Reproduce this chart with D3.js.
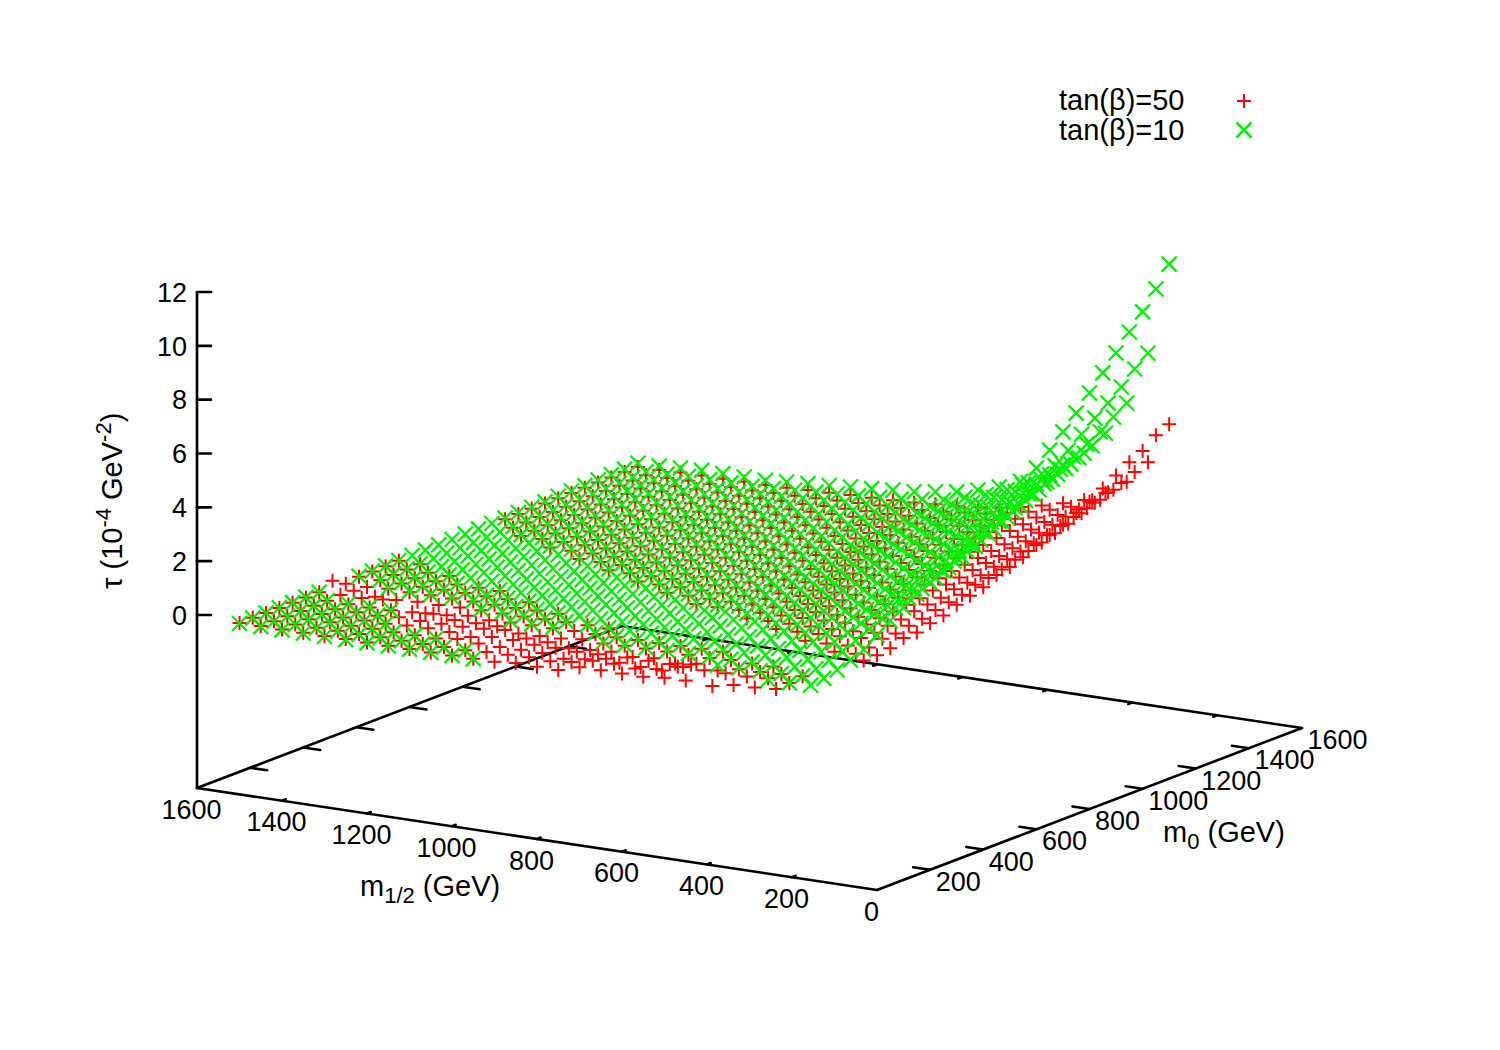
<!DOCTYPE html>
<html><head><meta charset="utf-8">
<script src="https://d3js.org/d3.v7.min.js"></script>
<style>html,body{margin:0;padding:0;background:#fff}svg{display:block}text{font-family:"Liberation Sans",Arial,sans-serif;font-size:27px;fill:#000}</style>
</head><body><div id="chart"></div>
<script>
const _ = null;
const m12Values = [1500,1450,1400,1350,1300,1250,1200,1150,1100,1050,1000,950,900,850,800,750,700,650,600,550,500,450,400,350,300,250];
const m0Values = [0,50,100,150,200,250,300,350,400,450,500,550,600,650,700,750,800,850,900,950,1000,1050,1100,1150,1200,1250,1300,1350,1400,1450,1500];
const tauTan50 = [
[-.05,-.05,-.06,-.06,-.05,-.05,-.04,.2,-.1,-.03,-.02,-.01,0,_,_,_,_,_,_,_,.04,.05,.05,.06,.07,.07,.08,.09,.09,.1,.1],
[-.05,-.06,-.06,-.05,-.05,-.05,-.02,-.05,-.1,-.04,-.03,-.02,-.01,_,_,_,_,_,_,.03,.04,.05,.05,.06,.07,.07,.08,.09,.09,.1,.11],
[-.06,-.06,-.05,-.05,-.06,-.06,-.02,-.16,-.05,-.04,-.03,-.02,_,_,_,_,_,_,.03,.04,.05,.05,.06,.07,.07,.08,.09,.1,.11,.12,.13],
[-.06,-.06,-.05,-.06,-.05,-.06,.05,-.16,-.06,-.04,-.03,-.02,_,_,_,_,_,_,.04,.05,.06,.06,.07,.08,.08,.09,.1,.11,.12,.13,.14],
[-.06,-.06,-.06,-.05,-.06,-.05,_,-.11,-.05,-.04,-.03,_,_,_,_,_,_,.03,.04,.05,.06,.06,.07,.08,.08,.09,.1,.11,.12,.13,.14],
[-.06,-.06,-.05,-.05,0,0,-.23,-.11,-.06,-.04,-.03,_,_,_,_,_,_,.03,.04,.05,.06,.06,.07,.07,.08,.09,.1,.11,.12,.13,.14],
[-.07,-.06,-.06,0,-.02,.06,-.18,-.08,-.05,-.04,-.03,_,_,_,_,_,.03,.04,.04,.05,.06,.06,.07,.07,.08,.09,.1,.11,.12,.13,.14],
[-.07,-.07,-.06,.02,0,-.05,-.08,-.07,-.05,-.03,_,_,_,_,_,_,.03,.04,.05,.05,.07,.07,.08,.09,.1,.11,.12,.13,.14,.15,.16],
[-.07,-.07,-.06,0,0,-.06,-.13,-.07,-.05,-.03,_,_,_,_,_,.03,.04,.05,.05,.06,.07,.08,.09,.1,.11,.12,.13,.14,.16,.17,.19],
[-.08,-.07,.04,-.07,.05,-.05,-.1,-.06,-.03,_,_,_,_,_,_,.04,.05,.06,.06,.07,.08,.09,.1,.11,.12,.13,.15,.16,.17,.19,.21],
[-.08,-.07,-.01,.05,.12,-.2,-.08,-.05,-.03,_,_,_,_,_,.04,.05,.06,.07,.08,.09,.1,.11,.12,.14,.15,.16,.18,.19,.21,.23,.24],
[-.08,-.02,-.02,.05,-.08,-.17,-.07,-.04,_,_,_,_,_,_,.05,.06,.07,.08,.09,.1,.12,.13,.14,.15,.16,.18,.2,.22,.23,.25,.26],
[-.07,0,0,0,-.1,-.15,-.06,-.03,_,_,_,_,_,.05,.06,.07,.08,.09,.1,.11,.13,.14,.15,.17,.18,.2,.22,.24,.25,.28,.29],
[0,.03,0,0,-.2,-.06,-.05,-.03,_,_,_,_,_,.05,.06,.07,.08,.1,.11,.12,.14,.15,.16,.18,.2,.22,.24,.26,.27,.3,.32],
[-.02,0,-.1,-.03,-.15,-.1,-.05,_,_,_,_,_,.05,.06,.08,.09,.1,.12,.13,.14,.16,.18,.19,.21,.23,.25,.28,.3,.32,.35,.37],
[-.02,.09,0,0,-.1,-.06,-.04,_,_,_,_,_,.06,.07,.09,.1,.11,.13,.14,.16,.18,.2,.22,.24,.26,.29,.31,.34,.36,.4,.42],
[.2,.25,.14,-.2,-.17,-.05,-.03,_,_,_,_,_,.07,.08,.1,.12,.13,.16,.17,.19,.22,.24,.26,.29,.31,.34,.38,.41,.43,.48,.5],
[.2,.26,.3,-.24,-.1,-.04,-.02,_,_,_,_,.06,.08,.1,.12,.14,.16,.19,.21,.23,.26,.29,.31,.34,.37,.41,.45,.49,.52,.57,.6],
[.2,.2,.3,-.25,-.18,-.04,-.01,_,_,_,_,.08,.1,.12,.15,.18,.2,.24,.26,.29,.33,.36,.39,.43,.47,.51,.56,.61,.65,.71,.75],
[.2,.3,.3,0,-.07,-.04,0,_,_,_,.09,.1,.13,.15,.19,.22,.24,.3,.32,.35,.4,.44,.48,.53,.57,.63,.69,.75,.8,.88,.92],
[.28,.5,.4,0,-.2,0,_,_,_,_,.11,.12,.15,.18,.23,.26,.3,.36,.38,.43,.49,.54,.58,.64,.7,.77,.84,.91,.97,1.07,1.12],
[.3,_,-.28,0,-.04,-.01,_,_,_,.08,.14,.14,.19,.22,.28,.32,.36,.44,.47,.52,.6,.65,.71,.78,.85,.94,1.02,1.11,1.18,1.3,1.36],
[_,_,-.13,0,-.02,0,_,_,_,.1,.18,.18,.24,.28,.35,.41,.46,.56,.6,.67,.76,.83,.9,1,1.08,1.2,1.31,1.42,1.51,1.66,1.74],
[_,_,-.1,.05,.02,_,_,_,.1,.14,.23,.24,.31,.36,.47,.54,.6,.73,.78,.87,1,1.09,1.19,1.31,1.42,1.57,1.72,1.86,1.98,2.17,2.28],
[_,_,-.04,0,.06,_,_,_,.14,.19,.32,.33,.43,.5,.64,.74,.83,1.01,1.08,1.2,1.38,1.51,1.64,1.8,1.96,2.16,2.37,2.57,2.72,2.94,3.12],
[_,_,_,_,_,_,_,.2,.2,.28,.47,.49,.64,.74,.95,1.1,1.23,1.49,1.6,1.78,2.04,2.23,2.42,2.67,2.9,3.2,3.5,3.8,4.03,4.43,4.65]
];
const tauTan10 = [
[-.07,-.06,-.06,-.05,-.05,-.04,-.04,_,_,-.01,0,0,.01,.01,.02,.03,.04,.05,.06,.07,.08,.1,.11,.12,.14,.15,.16,.18,.19,.21,.24],
[-.07,-.06,-.06,-.05,-.05,-.04,_,_,_,-.01,0,.01,.01,.02,.03,.03,.04,.05,.06,.08,.09,.1,.11,.13,.14,.15,.17,.18,.2,.22,.25],
[-.07,-.06,-.06,-.05,-.05,-.04,_,_,-.02,-.01,0,.01,.02,.03,.04,.05,.06,.07,.08,.09,.11,.12,.14,.15,.17,.19,.2,.22,.24,.26,.3],
[-.08,-.07,-.06,-.05,-.05,-.04,_,_,-.02,0,.01,.02,.03,.04,.05,.06,.07,.08,.09,.1,.12,.13,.15,.17,.19,.2,.22,.24,.26,.29,.33],
[-.08,-.07,-.06,-.06,-.05,-.04,_,_,-.02,0,.01,.02,.03,.04,.05,.06,.07,.08,.09,.11,.12,.14,.15,.17,.19,.2,.22,.24,.26,.29,.33],
[-.08,-.07,-.06,-.06,_,_,_,_,-.02,0,.01,.02,.03,.04,.05,.06,.07,.08,.09,.1,.12,.13,.15,.16,.18,.2,.22,.24,.26,.28,.32],
[-.08,-.07,-.06,_,_,_,_,_,-.01,0,.01,.02,.03,.04,.05,.06,.07,.08,.09,.1,.12,.13,.15,.16,.18,.2,.22,.24,.26,.28,.32],
[-.08,-.07,-.06,_,_,_,_,-.02,0,.01,.02,.03,.04,.05,.06,.07,.08,.09,.1,.12,.14,.15,.17,.19,.21,.23,.25,.27,.3,.32,.37],
[-.08,-.07,-.06,_,_,_,_,-.01,0,.02,.03,.04,.05,.06,.07,.08,.09,.1,.12,.14,.16,.18,.2,.22,.24,.26,.29,.31,.34,.37,.43],
[-.08,-.07,_,_,_,_,-.03,-.01,.01,.02,.03,.04,.05,.06,.07,.09,.1,.12,.14,.16,.18,.2,.22,.24,.27,.29,.32,.35,.38,.42,.48],
[-.08,-.07,_,_,_,_,-.03,-.01,.01,.03,.04,.05,.06,.07,.09,.1,.12,.14,.16,.18,.2,.23,.25,.28,.31,.34,.37,.4,.43,.47,.54],
[-.08,_,_,_,_,_,-.03,-.01,.01,.03,.05,.06,.07,.09,.1,.12,.14,.16,.18,.2,.23,.26,.28,.31,.34,.37,.41,.44,.48,.52,.6],
[_,_,_,_,_,_,_,-.01,.02,.04,.05,.07,.08,.1,.12,.14,.16,.18,.2,.23,.26,.29,.32,.35,.38,.42,.45,.49,.54,.58,.66],
[_,_,_,_,_,_,-.02,0,.02,.05,.06,.08,.1,.12,.14,.16,.18,.2,.23,.26,.29,.32,.35,.39,.42,.46,.5,.54,.58,.63,.72],
[_,_,_,_,_,-.03,-.01,.01,.04,.06,.08,.1,.12,.14,.17,.19,.22,.24,.28,.31,.35,.39,.43,.47,.51,.56,.6,.65,.7,.75,.84],
[_,_,_,_,_,-.03,0,.02,.05,.07,.1,.12,.14,.17,.2,.22,.25,.28,.32,.36,.4,.44,.48,.53,.58,.63,.68,.73,.79,.84,.95],
[_,_,_,_,_,-.02,.03,.05,.09,.12,.16,.19,.21,.24,.27,.31,.34,.37,.42,.46,.51,.56,.61,.67,.73,.79,.85,.91,.98,1.05,1.14],
[_,_,_,_,_,0,.03,.06,.11,.15,.2,.24,.27,.3,.34,.38,.42,.46,.51,.57,.63,.69,.75,.82,.9,.97,1.03,1.11,1.18,1.27,1.37],
[_,_,_,_,_,0,.04,.08,.14,.2,.25,.3,.34,.38,.43,.48,.53,.58,.64,.71,.79,.86,.94,1.02,1.11,1.2,1.29,1.38,1.48,1.58,1.7],
[_,_,_,_,_,.02,.06,.11,.18,.25,.31,.37,.42,.47,.53,.59,.65,.71,.79,.88,.97,1.06,1.16,1.26,1.37,1.48,1.59,1.71,1.82,1.95,2.1],
[_,_,_,_,0,.03,.08,.14,.22,.31,.38,.45,.51,.57,.64,.72,.79,.86,.96,1.07,1.18,1.29,1.41,1.53,1.67,1.8,1.93,2.07,2.21,2.37,2.55],
[_,_,_,_,.01,.05,.11,.17,.27,.38,.46,.55,.62,.7,.79,.87,.96,1.05,1.17,1.3,1.43,1.57,1.71,1.86,2.03,2.19,2.35,2.52,2.69,2.88,3.1],
[_,_,_,_,.02,.07,.14,.22,.35,.48,.59,.7,.79,.89,1,1.11,1.22,1.34,1.49,1.66,1.83,2.01,2.19,2.38,2.59,2.8,3,3.22,3.43,3.68,3.96],
[_,_,_,0,.04,.1,.19,.29,.46,.63,.78,.93,1.05,1.18,1.32,1.47,1.62,1.77,1.96,2.18,2.4,2.64,2.88,3.13,3.4,3.68,3.95,4.24,4.51,4.87,5.2],
[_,_,_,0,.07,.15,.27,.41,.64,.88,1.08,1.28,1.45,1.62,1.83,2.03,2.23,2.43,2.7,3,3.31,3.64,3.97,4.31,4.69,5.1,5.51,5.88,6.29,6.77,7.17],
[_,_,_,.03,.1,.22,.4,.6,.95,1.3,1.6,1.9,2.15,2.4,2.7,3,3.3,3.6,4,4.45,4.9,5.38,5.87,6.38,6.94,7.5,8.05,8.64,9.2,9.86,10.6]
];
const m12Ticks = [0,200,400,600,800,1000,1200,1400,1600];
const m0Ticks = [200,400,600,800,1000,1200,1400,1600];
const tauTicks = [0,2,4,6,8,10,12];
const seriesNames = ["tan(β)=50","tan(β)=10"];

const W=1500,H=1050,RED="#ff0000",GREEN="#00ee00";
const svg=d3.select("#chart").append("svg").attr("width",W).attr("height",H);
// gnuplot-style orthographic view, expressed as linear scales
const AX=d3.scaleLinear([0,1600],[0,-680]), AY=d3.scaleLinear([0,1600],[0,-102]);
const BX=d3.scaleLinear([0,1600],[0,425]), BY=d3.scaleLinear([0,1600],[0,-162]);
const Z=d3.scaleLinear([0,12],[615,292]);
const ZBASE=-6.42;
const px=(a,b)=>877+AX(a)+BX(b);
const py=(a,b,z=ZBASE)=>890+AY(a)+BY(b)+Z(z)-Z(ZBASE);

const axes=svg.append("g").attr("stroke","#000").attr("stroke-width",2.6).attr("fill","none").attr("stroke-linecap","round");
const seg=(a1,b1,z1,a2,b2,z2)=>axes.append("line").attr("x1",px(a1,b1)).attr("y1",py(a1,b1,z1)).attr("x2",px(a2,b2)).attr("y2",py(a2,b2,z2));
seg(0,0,ZBASE,1600,0,ZBASE);seg(0,0,ZBASE,0,1600,ZBASE);seg(1600,0,ZBASE,1600,1600,ZBASE);seg(0,1600,ZBASE,1600,1600,ZBASE);
seg(1600,0,ZBASE,1600,0,12);
const TL_A=14, TL_B=40;
m12Ticks.slice(1,-1).forEach(a=>{seg(a,0,ZBASE,a,TL_A,ZBASE);seg(a,1600,ZBASE,a,1600-TL_A,ZBASE);});
m0Ticks.slice(0,-1).forEach(b=>{seg(0,b,ZBASE,TL_B,b,ZBASE);seg(1600,b,ZBASE,1600-TL_B,b,ZBASE);});
tauTicks.forEach(t=>axes.append("line").attr("x1",197).attr("x2",211).attr("y1",Z(t)).attr("y2",Z(t)));

const labels=svg.append("g");
labels.selectAll(".zl").data(tauTicks).join("text").attr("x",187).attr("y",d=>Z(d)).attr("dy","0.36em").attr("text-anchor","end").text(d=>d);
labels.selectAll(".al").data(m12Ticks).join("text").attr("x",d=>px(d,0)-5.5).attr("y",d=>py(d,0)+21).attr("dy","0.36em").attr("text-anchor","middle").text(d=>d);
labels.selectAll(".bl").data(m0Ticks).join("text").attr("x",d=>px(0,d)+5.5).attr("y",d=>py(0,d)+11.5).attr("dy","0.36em").attr("text-anchor","start").text(d=>d);

const T=29,S=22;
const t1=svg.append("text").attr("x",360).attr("y",896).style("font-size",T+"px");
t1.append("tspan").text("m");t1.append("tspan").attr("dy",7).style("font-size",S+"px").text("1/2");t1.append("tspan").attr("dy",-7).text(" (GeV)");
const t2=svg.append("text").attr("x",1163).attr("y",842).style("font-size",T+"px");
t2.append("tspan").text("m");t2.append("tspan").attr("dy",7).style("font-size",S+"px").text("0");t2.append("tspan").attr("dy",-7).text(" (GeV)");
const t3=svg.append("text").attr("transform","translate(122,589) rotate(-90)").style("font-size",T+"px");
t3.append("tspan").text("τ (10");t3.append("tspan").attr("dy",-11).style("font-size",S+"px").text("-4");t3.append("tspan").attr("dy",11).text(" GeV");t3.append("tspan").attr("dy",-11).style("font-size",S+"px").text("-2");t3.append("tspan").attr("dy",11).text(")");

const PLUS="M-7,0H7M0,-7V7", CROSS="M-7.5,-7.5L7.5,7.5M-7.5,7.5L7.5,-7.5";
function points(grid){const out=[];grid.forEach((row,i)=>row.forEach((z,j)=>{if(z!==null)out.push({a:m12Values[i],b:m0Values[j],z});}));return out;}
function draw(grid,path,color,sw){
  svg.append("g").selectAll("path").data(points(grid)).join("path").attr("d",path).attr("fill","none").attr("stroke",color).attr("stroke-width",sw)
    .attr("transform",d=>`translate(${px(d.a,d.b)},${py(d.a,d.b,d.z)})`);
}
draw(tauTan50,PLUS,RED,2);
draw(tauTan10,CROSS,GREEN,2.3);

svg.append("text").attr("x",1059).attr("y",110).style("font-size",T+"px").text(seriesNames[0]);
svg.append("text").attr("x",1059).attr("y",139.5).style("font-size",T+"px").text(seriesNames[1]);
svg.append("path").attr("d",PLUS).attr("fill","none").attr("stroke",RED).attr("stroke-width",2).attr("transform","translate(1244,101)");
svg.append("path").attr("d",CROSS).attr("fill","none").attr("stroke",GREEN).attr("stroke-width",2.6).attr("transform","translate(1244,130)");
</script></body></html>
